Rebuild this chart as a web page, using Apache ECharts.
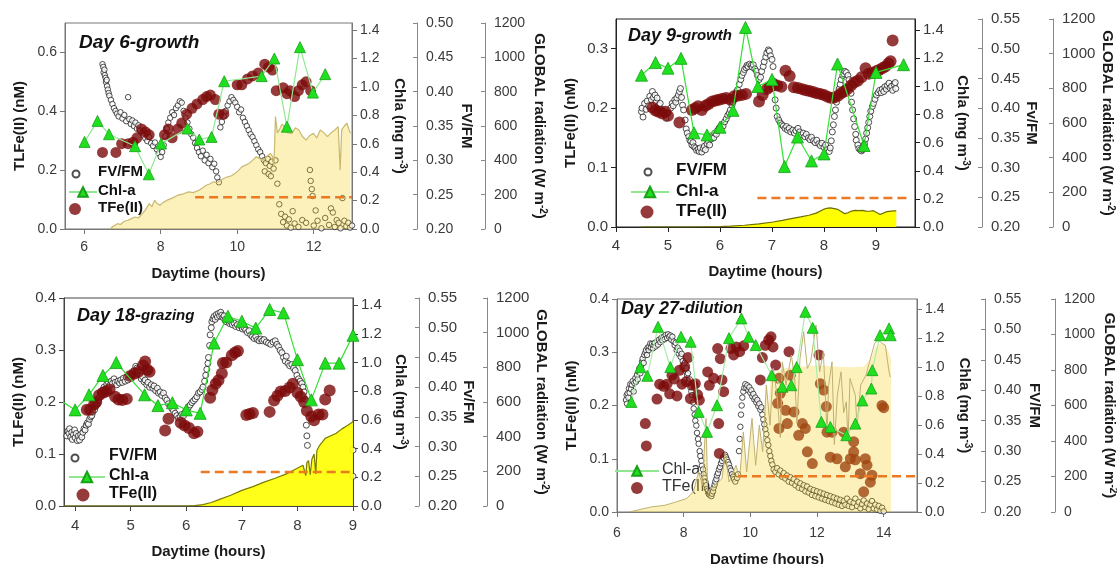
<!DOCTYPE html>
<html><head><meta charset="utf-8">
<script src="https://cdn.jsdelivr.net/npm/echarts@6/dist/echarts.min.js"></script>
<style>html,body{margin:0;padding:0;background:#fff}#c{width:1117px;height:564px}</style>
</head><body><div id="c"></div>
<script>
// ---------------- DATA ----------------
// Panel Day 6-growth
const d6_fvfm = [[6.48,0.440],[6.50,0.436],[6.51,0.428],[6.53,0.432],[6.54,0.424],[6.56,0.420],[6.57,0.414],[6.59,0.417],[6.60,0.408],[6.62,0.403],[6.64,0.398],[6.66,0.394],[6.70,0.388],[6.74,0.382],[6.78,0.376],[6.82,0.372],[6.86,0.368],[6.90,0.364],[6.95,0.370],[7.00,0.361],[7.05,0.366],[7.10,0.357],[7.15,0.392],[7.18,0.360],[7.22,0.353],[7.26,0.358],[7.30,0.350],[7.34,0.355],[7.38,0.346],[7.42,0.351],[7.46,0.343],[7.50,0.340],[7.55,0.336],[7.60,0.332],[7.65,0.328],[7.70,0.334],[7.75,0.325],[7.80,0.321],[7.85,0.326],[7.90,0.316],[7.95,0.310],[8.00,0.305],[8.04,0.312],[8.08,0.322],[8.12,0.335],[8.16,0.346],[8.20,0.355],[8.25,0.362],[8.30,0.370],[8.35,0.366],[8.40,0.376],[8.45,0.380],[8.50,0.386],[8.55,0.384],[8.60,0.372],[8.65,0.362],[8.70,0.355],[8.75,0.346],[8.80,0.338],[8.85,0.333],[8.90,0.325],[8.95,0.318],[9.00,0.312],[9.05,0.306],[9.10,0.314],[9.15,0.300],[9.20,0.308],[9.25,0.296],[9.30,0.302],[9.35,0.290],[9.40,0.295],[9.45,0.284],[9.48,0.275],[9.52,0.268],[9.56,0.348],[9.60,0.356],[9.65,0.364],[9.70,0.372],[9.75,0.380],[9.80,0.386],[9.85,0.392],[9.90,0.388],[9.95,0.384],[10.00,0.378],[10.05,0.370],[10.10,0.374],[10.15,0.362],[10.20,0.356],[10.25,0.350],[10.30,0.344],[10.35,0.338],[10.40,0.334],[10.45,0.328],[10.50,0.322],[10.55,0.316],[10.60,0.312],[10.65,0.306],[10.70,0.300],[10.75,0.296],[10.80,0.302],[10.85,0.292],[10.90,0.298],[10.95,0.288],[10.72,0.284],[10.82,0.280],[10.88,0.277],[11.00,0.300],[11.05,0.266],[11.10,0.236],[11.15,0.222],[11.20,0.210],[11.25,0.218],[11.30,0.205],[11.35,0.214],[11.40,0.202],[11.45,0.226],[11.50,0.208],[11.60,0.203],[11.70,0.213],[11.80,0.209],[11.90,0.286],[11.92,0.270],[11.95,0.258],[11.97,0.248],[12.00,0.205],[12.05,0.227],[12.10,0.212],[12.20,0.201],[12.30,0.216],[12.40,0.206],[12.45,0.230],[12.50,0.224],[12.55,0.203],[12.60,0.213],[12.65,0.209],[12.70,0.201],[12.75,0.245],[12.80,0.212],[12.85,0.204],[12.90,0.209],[12.95,0.202],[13.00,0.205]];
const d6_chla = [[6.01,0.613],[6.35,0.761],[6.65,0.667],[7.33,0.583],[7.69,0.385],[8.01,0.601],[8.70,0.707],[9.01,0.630],[9.33,0.648],[9.66,1.04],[10.64,1.076],[10.97,1.20],[11.30,0.72],[11.64,1.28],[11.98,0.96],[12.30,1.09]];
const d6_tfe = [[6.48,0.26],[6.83,0.26],[6.98,0.29],[7.15,0.29],[7.28,0.295],[7.38,0.31],[7.50,0.34],[7.60,0.33],[7.70,0.32],[8.10,0.32],[8.20,0.34],[8.30,0.31],[8.45,0.34],[8.55,0.36],[8.68,0.39],[8.82,0.41],[8.95,0.425],[9.10,0.44],[9.20,0.45],[9.30,0.455],[9.43,0.44],[9.52,0.39],[9.65,0.39],[10.00,0.49],[10.12,0.49],[10.27,0.51],[10.40,0.52],[10.55,0.53],[10.72,0.56],[10.82,0.55],[10.92,0.54],[11.02,0.47],[11.20,0.48],[11.30,0.46],[11.38,0.47],[11.50,0.45],[11.60,0.47],[11.70,0.49],[11.80,0.50],[11.92,0.47]];
const d6_rad = [[6.68,0],[6.75,15],[6.87,31],[6.95,26],[7.05,45],[7.15,51],[7.25,62],[7.33,70],[7.42,64],[7.52,90],[7.60,110],[7.70,148],[7.77,130],[7.84,168],[7.90,150],[7.98,138],[8.07,155],[8.17,168],[8.30,180],[8.45,197],[8.60,205],[8.73,216],[8.85,212],[9.00,226],[9.10,240],[9.19,255],[9.28,262],[9.38,275],[9.47,270],[9.57,284],[9.66,296],[9.75,304],[9.85,310],[9.94,323],[10.03,340],[10.12,362],[10.22,372],[10.31,382],[10.40,400],[10.50,421],[10.59,410],[10.68,401],[10.78,425],[10.87,440],[10.93,420],[10.96,362],[11.00,655],[11.05,560],[11.10,577],[11.17,610],[11.24,596],[11.32,560],[11.43,557],[11.52,590],[11.61,577],[11.70,540],[11.80,518],[11.90,545],[11.99,557],[12.08,530],[12.17,577],[12.27,560],[12.36,538],[12.45,560],[12.55,577],[12.64,596],[12.69,343],[12.73,577],[12.80,600],[12.87,616],[12.92,580],[12.96,557]];
const d6_limit = [[8.9,0.108],[13,0.108]];

// Panel Day 9-growth
const d9_fvfm = [[4.49,0.394],[4.50,0.400],[4.52,0.385],[4.55,0.408],[4.58,0.398],[4.60,0.412],[4.63,0.404],[4.65,0.420],[4.68,0.414],[4.70,0.428],[4.72,0.418],[4.75,0.422],[4.77,0.410],[4.79,0.417],[4.82,0.405],[4.85,0.408],[4.88,0.398],[4.90,0.395],[4.93,0.389],[4.96,0.383],[5.00,0.392],[5.05,0.400],[5.08,0.408],[5.10,0.404],[5.13,0.414],[5.15,0.410],[5.17,0.417],[5.20,0.422],[5.22,0.428],[5.24,0.433],[5.26,0.418],[5.28,0.405],[5.30,0.397],[5.33,0.380],[5.35,0.365],[5.37,0.358],[5.40,0.352],[5.42,0.346],[5.44,0.344],[5.46,0.338],[5.48,0.342],[5.50,0.335],[5.53,0.333],[5.55,0.329],[5.58,0.331],[5.60,0.327],[5.62,0.333],[5.65,0.326],[5.68,0.332],[5.70,0.336],[5.72,0.330],[5.75,0.340],[5.78,0.344],[5.80,0.338],[5.83,0.348],[5.85,0.352],[5.88,0.350],[5.90,0.358],[5.93,0.356],[5.95,0.362],[5.98,0.366],[6.00,0.368],[6.03,0.372],[6.06,0.370],[6.09,0.377],[6.12,0.382],[6.15,0.388],[6.18,0.392],[6.20,0.397],[6.23,0.405],[6.25,0.410],[6.27,0.414],[6.30,0.422],[6.32,0.428],[6.34,0.431],[6.37,0.440],[6.40,0.448],[6.42,0.455],[6.45,0.460],[6.47,0.465],[6.50,0.468],[6.52,0.472],[6.54,0.470],[6.57,0.474],[6.60,0.472],[6.62,0.469],[6.64,0.473],[6.67,0.466],[6.70,0.462],[6.72,0.455],[6.75,0.448],[6.78,0.452],[6.80,0.462],[6.83,0.470],[6.85,0.478],[6.88,0.486],[6.90,0.493],[6.93,0.498],[6.95,0.496],[6.97,0.488],[7.00,0.482],[7.02,0.470],[7.04,0.445],[7.06,0.414],[7.08,0.400],[7.10,0.386],[7.13,0.380],[7.16,0.375],[7.19,0.372],[7.22,0.370],[7.25,0.366],[7.28,0.369],[7.30,0.363],[7.33,0.366],[7.36,0.360],[7.40,0.363],[7.43,0.358],[7.46,0.362],[7.50,0.366],[7.53,0.360],[7.56,0.355],[7.60,0.358],[7.63,0.352],[7.66,0.356],[7.70,0.350],[7.73,0.347],[7.76,0.351],[7.80,0.345],[7.83,0.342],[7.86,0.346],[7.90,0.340],[7.93,0.337],[7.96,0.341],[8.00,0.334],[8.03,0.338],[8.06,0.330],[8.10,0.327],[8.12,0.333],[8.14,0.345],[8.16,0.360],[8.18,0.372],[8.20,0.386],[8.22,0.397],[8.24,0.410],[8.26,0.420],[8.29,0.432],[8.31,0.440],[8.33,0.448],[8.36,0.455],[8.38,0.458],[8.40,0.462],[8.43,0.460],[8.46,0.455],[8.48,0.448],[8.50,0.436],[8.52,0.425],[8.53,0.410],[8.55,0.397],[8.57,0.382],[8.59,0.369],[8.61,0.356],[8.62,0.346],[8.65,0.338],[8.67,0.332],[8.70,0.330],[8.72,0.328],[8.74,0.330],[8.76,0.335],[8.78,0.340],[8.80,0.348],[8.82,0.358],[8.84,0.367],[8.86,0.376],[8.88,0.386],[8.90,0.395],[8.93,0.403],[8.95,0.408],[8.98,0.415],[9.01,0.422],[9.04,0.426],[9.07,0.430],[9.10,0.426],[9.12,0.432],[9.15,0.428],[9.17,0.436],[9.20,0.432],[9.22,0.438],[9.25,0.442],[9.27,0.434],[9.30,0.437],[9.32,0.430],[9.35,0.440],[9.37,0.443],[9.38,0.433]];
const d9_chla = [[4.49,1.08],[4.76,1.17],[5.00,1.13],[5.25,1.20],[5.50,0.67],[5.75,0.655],[6.00,0.71],[6.25,0.83],[6.49,1.42],[6.73,1.00],[7.00,1.05],[7.24,0.43],[7.49,0.64],[7.76,0.47],[8.00,0.52],[8.26,1.16],[8.77,0.58],[9.00,1.10],[9.53,1.155]];
const d9_tfe = [[4.70,0.201],[4.76,0.196],[4.82,0.194],[4.89,0.191],[4.95,0.194],[5.00,0.187],[5.22,0.176],[5.46,0.197],[5.52,0.200],[5.58,0.203],[5.65,0.197],[5.72,0.204],[5.78,0.207],[5.85,0.211],[5.92,0.213],[5.98,0.214],[6.05,0.216],[6.12,0.217],[6.20,0.214],[6.27,0.220],[6.34,0.221],[6.42,0.222],[6.50,0.224],[6.75,0.211],[6.82,0.222],[6.90,0.232],[6.96,0.236],[7.04,0.239],[7.10,0.238],[7.18,0.236],[7.26,0.263],[7.34,0.254],[7.42,0.235],[7.50,0.234],[7.58,0.232],[7.65,0.230],[7.72,0.229],[7.79,0.227],[7.86,0.225],[7.93,0.224],[8.00,0.222],[8.07,0.219],[8.14,0.217],[8.20,0.218],[8.27,0.221],[8.33,0.225],[8.39,0.228],[8.45,0.232],[8.52,0.238],[8.58,0.243],[8.65,0.246],[8.72,0.252],[8.80,0.267],[8.86,0.258],[8.93,0.259],[9.00,0.262],[9.06,0.264],[9.12,0.267],[9.18,0.270],[9.24,0.275],[9.28,0.279],[9.32,0.314]];
const d9_rad = [[4.49,0],[5.00,0],[5.50,0],[6.00,2],[6.20,5],[6.47,10],[6.75,18],[7.02,29],[7.20,38],[7.37,48],[7.55,58],[7.71,68],[7.85,80],[7.98,100],[8.05,108],[8.12,110],[8.20,106],[8.26,102],[8.33,90],[8.40,77],[8.46,82],[8.53,92],[8.60,96],[8.67,94],[8.74,96],[8.81,92],[8.88,91],[8.95,94],[9.02,82],[9.08,72],[9.14,80],[9.19,87],[9.25,90],[9.29,92],[9.35,93],[9.39,93]];
const d9_limit = [[6.72,0.049],[9.6,0.049]];

// Panel Day 18-grazing
const d18_fvfm = [[3.85,0.318],[3.87,0.326],[3.89,0.322],[3.90,0.330],[3.92,0.316],[3.94,0.324],[3.95,0.312],[3.97,0.320],[3.99,0.328],[4.00,0.315],[4.02,0.322],[4.04,0.310],[4.06,0.318],[4.08,0.311],[4.10,0.320],[4.12,0.316],[4.14,0.324],[4.16,0.330],[4.18,0.328],[4.20,0.336],[4.22,0.340],[4.24,0.338],[4.26,0.346],[4.28,0.350],[4.30,0.352],[4.32,0.358],[4.35,0.362],[4.37,0.368],[4.40,0.372],[4.42,0.378],[4.44,0.384],[4.46,0.390],[4.48,0.388],[4.50,0.395],[4.52,0.400],[4.55,0.398],[4.57,0.405],[4.60,0.408],[4.62,0.403],[4.65,0.410],[4.67,0.406],[4.70,0.414],[4.72,0.408],[4.75,0.404],[4.77,0.410],[4.80,0.407],[4.82,0.412],[4.85,0.408],[4.87,0.415],[4.90,0.410],[4.92,0.417],[4.95,0.412],[4.98,0.420],[5.00,0.418],[5.03,0.423],[5.06,0.428],[5.09,0.435],[5.11,0.432],[5.13,0.426],[5.16,0.420],[5.19,0.414],[5.21,0.418],[5.24,0.409],[5.26,0.412],[5.29,0.404],[5.31,0.408],[5.34,0.400],[5.37,0.404],[5.40,0.398],[5.42,0.402],[5.45,0.394],[5.48,0.398],[5.50,0.390],[5.53,0.392],[5.56,0.386],[5.59,0.390],[5.62,0.382],[5.65,0.378],[5.68,0.372],[5.71,0.368],[5.74,0.364],[5.77,0.360],[5.80,0.356],[5.83,0.352],[5.86,0.348],[5.89,0.350],[5.92,0.354],[5.95,0.352],[5.98,0.358],[6.01,0.362],[6.04,0.366],[6.07,0.370],[6.10,0.374],[6.13,0.377],[6.16,0.380],[6.19,0.384],[6.22,0.390],[6.25,0.392],[6.28,0.396],[6.30,0.400],[6.33,0.410],[6.35,0.420],[6.37,0.430],[6.39,0.440],[6.40,0.450],[6.42,0.470],[6.43,0.488],[6.45,0.500],[6.46,0.510],[6.48,0.515],[6.50,0.519],[6.52,0.514],[6.54,0.522],[6.56,0.518],[6.58,0.524],[6.60,0.520],[6.62,0.526],[6.64,0.521],[6.66,0.517],[6.68,0.520],[6.70,0.514],[6.72,0.510],[6.75,0.512],[6.78,0.507],[6.80,0.510],[6.83,0.505],[6.86,0.508],[6.89,0.502],[6.92,0.505],[6.95,0.500],[6.98,0.503],[7.01,0.498],[7.04,0.500],[7.07,0.496],[7.10,0.492],[7.13,0.495],[7.16,0.488],[7.19,0.485],[7.22,0.482],[7.25,0.485],[7.28,0.480],[7.31,0.478],[7.34,0.481],[7.37,0.478],[7.40,0.480],[7.44,0.476],[7.48,0.474],[7.52,0.472],[7.56,0.476],[7.60,0.478],[7.63,0.472],[7.66,0.468],[7.69,0.462],[7.72,0.458],[7.75,0.450],[7.78,0.444],[7.80,0.452],[7.83,0.440],[7.86,0.436],[7.90,0.438],[7.93,0.432],[7.96,0.428],[7.99,0.420],[8.02,0.414],[8.05,0.410],[8.08,0.406],[8.10,0.400],[8.12,0.392],[8.14,0.380],[8.16,0.336],[8.17,0.318],[8.18,0.302],[9.00,0.294],[9.00,0.250]];
const d18_chla = [[3.70,0.745],[4.00,0.67],[4.25,0.775],[4.50,0.91],[4.74,1.00],[5.25,0.775],[5.49,0.70],[5.75,0.72],[6.00,0.67],[6.25,0.646],[6.50,1.136],[6.75,1.323],[7.00,1.288],[7.25,1.24],[7.50,1.37],[7.75,1.346],[8.00,1.02],[8.25,0.74],[8.50,0.996],[8.75,0.996],[9.00,1.19]];
const d18_tfe = [[4.21,0.185],[4.27,0.185],[4.34,0.195],[4.38,0.200],[4.43,0.213],[4.50,0.218],[4.56,0.220],[4.62,0.224],[4.72,0.210],[4.78,0.205],[4.85,0.204],[4.93,0.206],[4.99,0.250],[5.07,0.255],[5.14,0.258],[5.22,0.270],[5.26,0.278],[5.30,0.262],[5.34,0.258],[5.62,0.145],[5.68,0.168],[5.90,0.160],[5.97,0.155],[6.05,0.150],[6.14,0.140],[6.20,0.143],[6.43,0.208],[6.47,0.223],[6.53,0.235],[6.58,0.242],[6.64,0.255],[6.66,0.275],[6.72,0.276],[6.82,0.290],[6.88,0.295],[6.93,0.298],[7.08,0.175],[7.14,0.177],[7.20,0.179],[7.50,0.181],[7.58,0.203],[7.64,0.212],[7.70,0.220],[7.78,0.221],[7.86,0.228],[7.92,0.235],[8.00,0.218],[8.06,0.210],[8.12,0.200],[8.17,0.183],[8.25,0.172],[8.30,0.165],[8.38,0.176],[8.45,0.176],[8.50,0.205],[8.58,0.222]];
const d18_rad = [[3.80,0],[4.50,0],[5.00,0],[5.50,0],[6.00,0],[6.15,2],[6.30,8],[6.45,20],[6.60,38],[6.80,62],[7.00,90],[7.20,112],[7.40,138],[7.60,160],[7.80,185],[7.98,215],[8.10,235],[8.13,240],[8.15,175],[8.17,250],[8.20,262],[8.23,180],[8.26,270],[8.30,300],[8.33,185],[8.35,320],[8.40,350],[8.45,370],[8.50,390],[8.60,405],[8.70,420],[8.80,445],[8.90,465],[9.00,486]];
const d18_limit = [[6.26,0.0655],[9,0.0655]];

// Panel Day 27-dilution
const d27_fvfm = [[6.27,0.384],[6.29,0.392],[6.30,0.378],[6.32,0.395],[6.34,0.388],[6.36,0.403],[6.38,0.396],[6.40,0.410],[6.42,0.402],[6.45,0.409],[6.47,0.415],[6.50,0.398],[6.52,0.412],[6.55,0.420],[6.57,0.414],[6.60,0.425],[6.62,0.418],[6.65,0.430],[6.67,0.436],[6.70,0.428],[6.72,0.440],[6.75,0.447],[6.77,0.452],[6.80,0.445],[6.82,0.458],[6.85,0.462],[6.87,0.466],[6.90,0.458],[6.92,0.470],[6.95,0.466],[6.97,0.472],[7.00,0.477],[7.02,0.470],[7.05,0.476],[7.08,0.469],[7.10,0.474],[7.13,0.478],[7.16,0.472],[7.20,0.480],[7.23,0.475],[7.26,0.483],[7.30,0.479],[7.33,0.486],[7.36,0.482],[7.40,0.488],[7.43,0.484],[7.46,0.491],[7.50,0.486],[7.53,0.492],[7.56,0.488],[7.60,0.490],[7.63,0.483],[7.66,0.488],[7.70,0.480],[7.73,0.474],[7.76,0.478],[7.79,0.466],[7.82,0.470],[7.85,0.460],[7.88,0.465],[7.91,0.455],[7.94,0.460],[7.97,0.448],[8.00,0.440],[8.03,0.445],[8.05,0.432],[8.08,0.436],[8.10,0.425],[8.13,0.428],[8.15,0.414],[8.18,0.418],[8.20,0.405],[8.23,0.398],[8.25,0.392],[8.28,0.380],[8.30,0.370],[8.33,0.360],[8.35,0.350],[8.38,0.342],[8.40,0.330],[8.43,0.320],[8.45,0.312],[8.48,0.300],[8.50,0.292],[8.53,0.284],[8.55,0.276],[8.58,0.270],[8.60,0.262],[8.63,0.256],[8.65,0.250],[8.68,0.244],[8.70,0.238],[8.73,0.235],[8.75,0.230],[8.78,0.228],[8.80,0.232],[8.83,0.226],[8.85,0.230],[8.88,0.234],[8.90,0.240],[8.93,0.245],[8.95,0.250],[8.98,0.254],[9.00,0.260],[9.03,0.264],[9.06,0.270],[9.09,0.274],[9.12,0.280],[9.15,0.284],[9.18,0.290],[9.21,0.288],[9.24,0.294],[9.27,0.290],[9.30,0.286],[9.33,0.282],[9.36,0.278],[9.39,0.272],[9.42,0.268],[9.45,0.262],[9.48,0.258],[9.51,0.254],[9.55,0.250],[9.60,0.256],[9.63,0.262],[9.66,0.300],[9.68,0.320],[9.70,0.340],[9.72,0.360],[9.74,0.375],[9.76,0.388],[9.79,0.398],[9.82,0.404],[9.85,0.410],[9.88,0.404],[9.91,0.408],[9.94,0.400],[9.97,0.405],[10.00,0.396],[10.03,0.400],[10.06,0.390],[10.09,0.394],[10.12,0.385],[10.15,0.388],[10.18,0.380],[10.21,0.384],[10.24,0.374],[10.27,0.378],[10.30,0.368],[10.33,0.372],[10.36,0.360],[10.39,0.352],[10.42,0.344],[10.45,0.336],[10.48,0.328],[10.51,0.318],[10.54,0.310],[10.57,0.300],[10.60,0.292],[10.63,0.284],[10.66,0.278],[10.70,0.270],[10.75,0.266],[10.80,0.272],[10.85,0.262],[10.90,0.268],[10.95,0.258],[11.00,0.264],[11.05,0.255],[11.10,0.260],[11.15,0.250],[11.20,0.257],[11.25,0.248],[11.30,0.254],[11.35,0.244],[11.40,0.250],[11.45,0.240],[11.50,0.247],[11.55,0.238],[11.60,0.244],[11.65,0.234],[11.70,0.242],[11.75,0.232],[11.80,0.238],[11.85,0.228],[11.90,0.236],[11.95,0.226],[12.00,0.234],[12.05,0.224],[12.10,0.232],[12.15,0.222],[12.20,0.230],[12.25,0.220],[12.30,0.228],[12.35,0.218],[12.40,0.226],[12.45,0.216],[12.50,0.224],[12.55,0.214],[12.60,0.222],[12.65,0.212],[12.70,0.220],[12.75,0.210],[12.80,0.218],[12.85,0.212],[12.90,0.222],[12.95,0.210],[13.00,0.217],[13.05,0.208],[13.10,0.215],[13.15,0.222],[13.20,0.210],[13.25,0.216],[13.30,0.206],[13.35,0.213],[13.40,0.219],[13.45,0.208],[13.50,0.214],[13.55,0.205],[13.60,0.212],[13.65,0.218],[13.70,0.206],[13.75,0.212],[13.80,0.204],[13.85,0.210],[13.90,0.202],[13.95,0.207],[14.00,0.201]];
const d27_chla = [[6.43,0.76],[6.70,1.00],[6.91,0.94],[7.23,1.278],[7.60,1.00],[7.92,1.209],[8.21,1.175],[8.45,0.691],[8.70,0.553],[9.00,0.737],[9.36,1.20],[9.73,1.336],[9.95,1.209],[10.16,1.152],[10.64,0.944],[10.96,0.864],[11.23,0.875],[11.39,1.00],[11.65,1.382],[11.87,1.271],[12.13,0.622],[12.40,0.587],[12.88,0.53],[13.15,0.61],[13.36,0.77],[13.63,0.852],[13.66,0.979],[13.89,1.22],[14.16,1.267],[14.21,1.22]];
const d27_tfe = [[6.85,0.166],[6.88,0.124],[7.20,0.212],[7.28,0.240],[7.40,0.236],[7.50,0.240],[7.58,0.222],[7.65,0.257],[7.72,0.250],[7.80,0.218],[7.87,0.266],[7.95,0.240],[8.03,0.273],[8.08,0.245],[8.13,0.290],[8.20,0.213],[8.28,0.238],[8.35,0.241],[8.42,0.220],[8.47,0.210],[8.72,0.263],[8.77,0.238],[8.90,0.251],[9.02,0.307],[9.05,0.166],[9.07,0.110],[9.10,0.288],[9.15,0.248],[9.20,0.226],[9.42,0.307],[9.50,0.295],[9.58,0.310],[9.68,0.301],[9.80,0.312],[10.30,0.248],[10.36,0.290],[10.45,0.313],[10.55,0.323],[10.62,0.329],[10.68,0.310],[10.76,0.276],[10.82,0.204],[10.86,0.251],[10.90,0.223],[10.86,0.157],[11.06,0.191],[11.11,0.166],[11.16,0.301],[11.20,0.257],[11.31,0.188],[11.45,0.144],[11.56,0.166],[11.65,0.157],[11.71,0.113],[11.86,0.091],[12.06,0.295],[12.10,0.241],[12.20,0.229],[12.28,0.198],[12.30,0.150],[12.40,0.103],[12.45,0.150],[12.60,0.100],[12.80,0.150],[12.85,0.085],[13.00,0.100],[13.10,0.132],[13.10,0.113],[13.15,0.098],[13.30,0.072],[13.40,0.038],[13.45,0.100],[13.50,0.088],[13.60,0.056],[13.65,0.069],[13.95,0.200],[14.00,0.196]];
const d27_rad = [[6.37,0],[7.01,28],[7.44,38],[7.76,56],[8.08,75],[8.29,113],[8.45,226],[8.56,150],[8.67,527],[8.72,113],[8.93,150],[9.15,188],[9.25,339],[9.36,169],[9.57,263],[9.68,188],[9.79,451],[9.89,226],[10.05,527],[10.16,263],[10.27,489],[10.37,339],[10.48,715],[10.59,489],[10.69,809],[10.80,658],[10.90,420],[10.96,846],[11.07,715],[11.23,884],[11.33,752],[11.40,500],[11.49,865],[11.60,1016],[11.71,809],[11.81,846],[11.97,1053],[12.08,790],[12.19,903],[12.30,450],[12.35,715],[12.45,846],[12.52,380],[12.61,658],[12.72,790],[12.80,560],[12.88,621],[12.93,400],[12.99,752],[13.15,658],[13.20,480],[13.31,715],[13.47,771],[13.63,884],[13.73,950],[13.84,969],[13.95,950],[14.05,940],[14.16,790],[14.20,760]];
const d27_radFill = [[6.37,0],[7.01,28],[7.44,38],[7.76,56],[8.08,75],[8.29,113],[8.45,226],[8.56,150],[8.67,527],[8.72,113],[8.93,150],[9.15,188],[9.25,339],[9.36,169],[9.57,263],[9.68,188],[9.79,451],[9.89,226],[10.05,527],[10.16,263],[10.27,489],[10.37,339],[10.48,715],[10.55,600],[10.60,760],[10.80,790],[11.00,810],[11.50,820],[12.00,825],[12.50,820],[13.00,815],[13.40,820],[13.60,860],[13.75,930],[13.90,950],[14.05,940],[14.15,900],[14.22,860]];
const d27_limit = [[9.63,0.067],[15,0.067]];

// tick labels
const chlaTicks = [0,0.2,0.4,0.6,0.8,1.0,1.2,1.4];
const radTicks = [0,200,400,600,800,1000,1200];
const fv50Ticks = [0.20,0.25,0.30,0.35,0.40,0.45,0.50];
const fv55Ticks = [0.20,0.25,0.30,0.35,0.40,0.45,0.50,0.55];

// ---------------- LAYOUT ----------------
const FONT = '"Liberation Sans", Arial, Helvetica, sans-serif';
const PALE = 'rgba(245,210,30,0.3)';
const panels = [
  { g:[65,23,352,229], x:[5.5,13], xt:[6,8,10,12], tl:0.7, tlt:[0,0.2,0.4,0.6], ch:1.45, fv:0.5, fvt:fv50Ticks, fvName:'FV/FM',
    fvOff:65, radOff:133, border:'#777', fs:14, xm:11, xg:37,
    fvfm:d6_fvfm, chla:d6_chla, tfe:d6_tfe, rad:d6_rad, radFill:null, lim:d6_limit,
    fillCol:PALE, radLine:'#c8b870', chLine:'#8fe88f', fvS:5.5, feS:11, trS:11,
    title:'{a|Day 6-growth}', tPos:[79,33], tA:19, tB:19,
    leg:{fs:15, fw:'bold', col:'#111', tx:98,
      items:[['FV/FM',71.5,173,7,7,'circle'],['Chl-a',68,192,28,12,null],['TFe(II)',69,209,12,12,'circle']]} },
  { g:[616,19,915,227], x:[4,9.75], xt:[4,5,6,7,8,9], tl:0.35, tlt:[0,0.1,0.2,0.3], ch:1.48, fv:0.55, fvt:fv55Ticks, fvName:'Fv/FM',
    fvOff:67, radOff:138, border:'#222', fs:15, xm:11, xg:37,
    fvfm:d9_fvfm, chla:d9_chla, tfe:d9_tfe, rad:d9_rad, radFill:null, lim:d9_limit,
    fillCol:'#ffff00', radLine:'#6e6e00', chLine:'#33e033', fvS:6, feS:12, trS:12,
    title:'{a|Day 9-}{b|growth}', tPos:[628,27], tA:18, tB:15,
    leg:{fs:17, fw:'bold', col:'#111', tx:676,
      items:[['FV/FM',643.5,171,7,7,'circle'],['Chl-a',630,192,38,13,null],['TFe(II)',640.5,212,13,13,'circle']]} },
  { g:[64,298,353,506], x:[3.8,9], xt:[4,5,6,7,8,9], tl:0.4, tlt:[0,0.1,0.2,0.3,0.4], ch:1.45, fv:0.55, fvt:fv55Ticks, fvName:'Fv/FM',
    fvOff:66, radOff:134, border:'#444', fs:15, xm:12, xg:38,
    fvfm:d18_fvfm, chla:d18_chla, tfe:d18_tfe, rad:d18_rad, radFill:null, lim:d18_limit,
    fillCol:'rgba(255,255,0,0.9)', radLine:'#7a7a00', chLine:'#33e033', fvS:6, feS:12, trS:12,
    title:'{a|Day 18-}{b|grazing}', tPos:[77,307], tA:18, tB:15,
    leg:{fs:16, fw:'bold', col:'#111', tx:109,
      items:[['FV/FM',70.5,457,7,7,'circle'],['Chl-a',68,477,36,13,null],['TFe(II)',76.5,495,13,13,'circle']]} },
  { g:[617,299,917,512], x:[6,15], xt:[6,8,10,12,14], tl:0.4, tlt:[0,0.1,0.2,0.3,0.4], ch:1.47, fv:0.55, fvt:fv55Ticks, fvName:'FV/FM',
    fvOff:68, radOff:138, border:'#777', fs:14, xm:14, xg:40,
    fvfm:d27_fvfm, chla:d27_chla, tfe:d27_tfe, rad:d27_rad, radFill:d27_radFill, lim:d27_limit,
    fillCol:PALE, radLine:'#c0b070', chLine:'#a8eca8', fvS:5.5, feS:11, trS:11,
    title:'{a|Day 27-}{b|dilution}', tPos:[621,300], tA:18, tB:16,
    leg:{fs:16, fw:'normal', col:'#333', tx:662,
      items:[['Chl-a',614,471,44,12,null],['TFe(II)',631,488,12,12,'circle']]} }
];

const opt = { animation:false, backgroundColor:'#fff', grid:[], xAxis:[], yAxis:[], series:[], legend:[], title:[] };
const nameStyle = ()=>({fontSize:15, fontWeight:'bold', color:'#1a1a1a', fontFamily:FONT,
  rich:{sup:{fontSize:10, fontWeight:'bold', color:'#1a1a1a', fontFamily:FONT, verticalAlign:'top', lineHeight:18}}});
const lbl = (p, ticks, dec)=>({customValues:ticks, fontSize:p.fs, color:'#3a3a3a', fontFamily:FONT, margin:8,
  formatter:(v)=>dec<0?String(Math.round(v)):Number(v).toFixed(dec)});

panels.forEach((p,i)=>{
  const [l,t,r,b] = p.g;
  opt.grid.push({left:l, top:t, width:r-l, height:b-t, show:true, borderColor:p.border, borderWidth:1, containLabel:false, outerBoundsMode:'none'});
  opt.xAxis.push({type:'value', gridIndex:i, min:p.x[0], max:p.x[1],
    axisLine:{show:true, onZero:false, lineStyle:{color:p.border}},
    axisTick:{show:true, customValues:p.xt, length:5, lineStyle:{color:p.border}},
    axisLabel:Object.assign(lbl(p,p.xt,-1),{margin:p.xm}), splitLine:{show:false},
    name:'Daytime (hours)', nameLocation:'middle', nameGap:p.xg, nameMoveOverlap:false, nameTextStyle:nameStyle()});
  const yb = 4*i;
  opt.yAxis.push({type:'value', gridIndex:i, position:'left', min:0, max:p.tl,
    axisLine:{show:true, lineStyle:{color:p.border}}, axisTick:{show:true, customValues:p.tlt, length:5, lineStyle:{color:p.border}},
    axisLabel:lbl(p,p.tlt,1), splitLine:{show:false},
    name:'TLFe(II) (nM)', nameLocation:'middle', nameRotate:90, nameGap:38, nameMoveOverlap:false, nameTextStyle:nameStyle()});
  opt.yAxis.push({type:'value', gridIndex:i, position:'right', offset:0, min:0, max:p.ch,
    axisLine:{show:true, lineStyle:{color:p.border}}, axisTick:{show:true, customValues:chlaTicks, length:5, lineStyle:{color:p.border}},
    axisLabel:lbl(p,chlaTicks,1), splitLine:{show:false},
    name:'Chla (mg m{sup|-3})', nameLocation:'middle', nameRotate:-90, nameGap:38, nameMoveOverlap:false, nameTextStyle:nameStyle()});
  opt.yAxis.push({type:'value', gridIndex:i, position:'right', offset:p.fvOff, min:0.2, max:p.fv,
    axisLine:{show:true, lineStyle:{color:'#888'}}, axisTick:{show:true, inside:true, customValues:p.fvt, length:4, lineStyle:{color:'#888'}},
    axisLabel:Object.assign(lbl(p,p.fvt,2),{margin:9}), splitLine:{show:false},
    name:p.fvName, nameLocation:'middle', nameRotate:-90, nameGap:42, nameMoveOverlap:false, nameTextStyle:nameStyle()});
  opt.yAxis.push({type:'value', gridIndex:i, position:'right', offset:p.radOff, min:0, max:1200,
    axisLine:{show:true, lineStyle:{color:'#888'}}, axisTick:{show:true, inside:true, customValues:radTicks, length:4, lineStyle:{color:'#888'}},
    axisLabel:Object.assign(lbl(p,radTicks,-1),{margin:9}), splitLine:{show:false},
    name:'GLOBAL radiation (W m{sup|-2})', nameLocation:'middle', nameRotate:-90, nameGap:45, nameMoveOverlap:false, nameTextStyle:nameStyle()});

  opt.series.push({name:'FV/FM', type:'scatter', xAxisIndex:i, yAxisIndex:yb+2, data:p.fvfm, symbol:'circle', symbolSize:p.fvS,
    itemStyle:{color:'#fff', borderColor:'#222', borderWidth:1}, z:2});
  opt.series.push({name:'TFe(II)', type:'scatter', xAxisIndex:i, yAxisIndex:yb, data:p.tfe, symbol:'circle', symbolSize:p.feS,
    itemStyle:{color:'#7c0a0a'}, z:3});
  if (p.radFill) {
    opt.series.push({name:'GLOBAL fill', type:'line', xAxisIndex:i, yAxisIndex:yb+3, data:p.radFill, showSymbol:false, symbol:'none',
      lineStyle:{width:0, opacity:0}, areaStyle:{color:p.fillCol, opacity:1}, z:4});
    opt.series.push({name:'GLOBAL', type:'line', xAxisIndex:i, yAxisIndex:yb+3, data:p.rad, showSymbol:false, symbol:'none',
      lineStyle:{color:p.radLine, width:1}, z:4});
  } else {
    opt.series.push({name:'GLOBAL', type:'line', xAxisIndex:i, yAxisIndex:yb+3, data:p.rad, showSymbol:false, symbol:'none',
      lineStyle:{color:p.radLine, width:1.2}, areaStyle:{color:p.fillCol, opacity:1}, z:4});
  }
  opt.series.push({name:'Chl-a', type:'line', xAxisIndex:i, yAxisIndex:yb+1, data:p.chla, symbol:'triangle', symbolSize:p.trS,
    lineStyle:{color:p.chLine, width:1.2}, itemStyle:{color:'#1fe01f', borderColor:'#18a018', borderWidth:0.8}, z:5});
  opt.series.push({name:'limit', type:'line', xAxisIndex:i, yAxisIndex:yb, data:p.lim, symbol:'none',
    lineStyle:{color:'#ec7a22', width:2.5, type:[9,5]}, z:6});

  p.leg.items.forEach(([nm,left,cy,w,h,icon])=>{
    const item = icon ? {name:nm, icon:icon} : {name:nm};
    opt.legend.push({data:[item], orient:'vertical', left:left, top:cy - h/2, itemWidth:w, itemHeight:h, padding:0, itemGap:0,
      selectedMode:false, formatter:()=>'', textStyle:{fontSize:1}});
    opt.legend.push({data:[{name:nm, icon:'none'}], orient:'vertical', left:p.leg.tx - 6, top:cy - p.leg.fs/2 - 1, itemWidth:1, itemHeight:1,
      padding:0, itemGap:0, selectedMode:false,
      textStyle:{fontSize:p.leg.fs, fontWeight:p.leg.fw, color:p.leg.col, fontFamily:FONT}});
  });
  opt.title.push({text:p.title, left:p.tPos[0], top:p.tPos[1], padding:0,
    textStyle:{rich:{a:{fontSize:p.tA, fontWeight:'bold', fontStyle:'italic', color:'#111', fontFamily:FONT},
                     b:{fontSize:p.tB, fontWeight:'bold', fontStyle:'italic', color:'#111', fontFamily:FONT}}}});
});

const chart = echarts.init(document.getElementById('c'), null, {renderer:'canvas'});
chart.setOption(opt);
</script>
</body></html>
